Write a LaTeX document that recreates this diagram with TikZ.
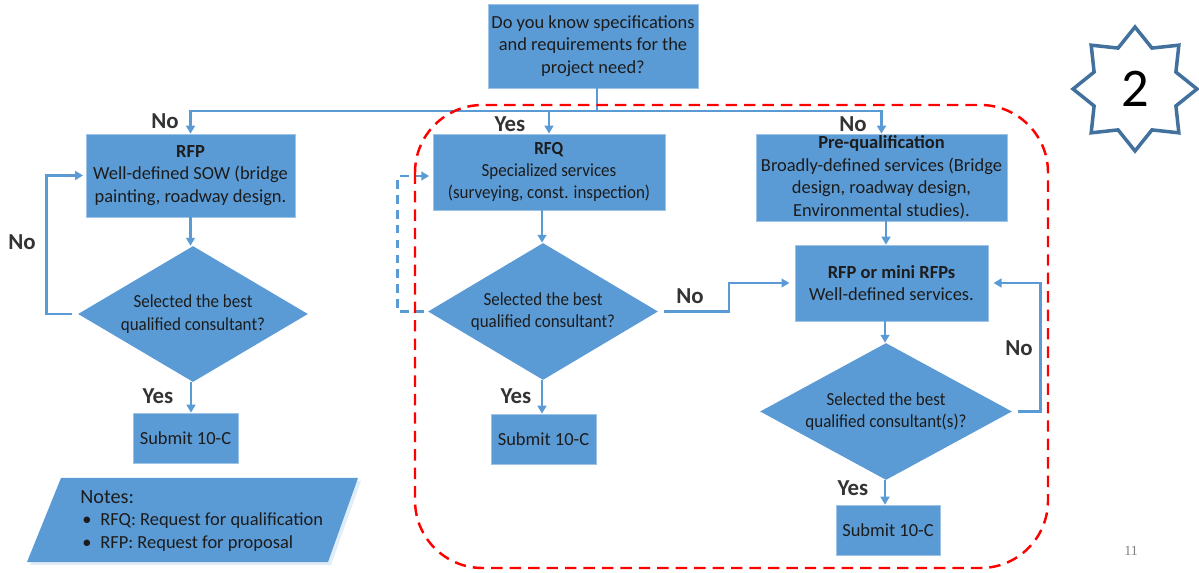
\documentclass[tikz,border=0pt]{standalone}
\usepackage{fontspec}
\setmainfont{Carlito}
\newfontfamily\narrowfont{Carlito}[FakeStretch=0.92]
\newfontfamily\pagefont{Liberation Serif}
\usepackage{xcolor}
\usepackage{tikz}
\usetikzlibrary{arrows.meta,shapes.geometric}
\definecolor{boxblue}{HTML}{5B9BD5}
\definecolor{starblue}{HTML}{41719C}
\definecolor{inktext}{HTML}{1C1C1C}

\begin{document}
\begin{tikzpicture}[x=0.02cm,y=-0.02cm]
    \tikzstyle{box_style} = [rectangle,fill=boxblue,draw=boxblue!60!white,line width=0.4pt,text=inktext,align=center,inner sep=0pt,font=\fontsize{10.5}{12.8}\selectfont]
    \tikzstyle{choice_style} = [diamond,fill=boxblue,inner sep=0pt]
    \tikzstyle{choice_text} = [text=inktext,align=center,inner sep=0pt,font=\narrowfont\fontsize{10.5}{12.8}\selectfont]
    \tikzstyle{edge_style} = [draw=boxblue,line width=1.5pt,-{Triangle[length=4.5pt,width=5pt]}]
    \tikzstyle{label_style} = [text=inktext!90!white,inner sep=0pt,font=\fontsize{13}{13}\selectfont\bfseries]
    \tikzstyle{region_style} = [draw=red,line width=1.4pt,dash pattern=on 6.5pt off 4pt,rounded corners=1.35cm]
    \useasboundingbox (0,0) rectangle (1199,573);
        % boxes
        \node[box_style,minimum width=4.2cm,minimum height=1.68cm] (top) at (593,46) {Do you know specifications\\and requirements for the\\project need?};
        \node[box_style,minimum width=4.18cm,minimum height=1.66cm] (rfp) at (190.5,175.5) {\textbf{RFP}\\Well-defined SOW (bridge\\painting, roadway design.};
        \node[box_style,minimum width=4.64cm,minimum height=1.52cm,font=\narrowfont\fontsize{10.5}{12.6}\selectfont] (rfq) at (549,172) {\textbf{RFQ}\\Specialized services\\(surveying, const. inspection)};
        \node[box_style,minimum width=5.02cm,minimum height=1.74cm] (preq) at (881.5,177.5) {\textbf{Pre-qualification}\\Broadly-defined services (Bridge\\design, roadway design,\\Environmental studies).};
        \node[box_style,minimum width=3.86cm,minimum height=1.52cm] (mini) at (891.5,283) {\textbf{RFP or mini RFPs}\\Well-defined services.};
        % decisions
        \node[choice_style,minimum width=4.6cm,minimum height=2.72cm,label={[choice_text]center:Selected the best\\qualified consultant?}] (d1) at (193,314) {};
        \node[choice_style,minimum width=4.6cm,minimum height=2.74cm,label={[choice_text]center:Selected the best\\qualified consultant?}] (d2) at (543,311.5) {};
        \node[choice_style,minimum width=5.04cm,minimum height=2.74cm,label={[choice_text]center:Selected the best\\qualified consultant(s)?}] (d3) at (886,411.5) {};
        % submit
        \node[box_style,minimum width=2.1cm,minimum height=1cm] (sub1) at (185.5,438) {Submit 10-C};
        \node[box_style,minimum width=2.1cm,minimum height=1cm] (sub2) at (543.5,439) {Submit 10-C};
        \node[box_style,minimum width=2.08cm,minimum height=1cm] (sub3) at (888,530) {Submit 10-C};
        % split under the question
        \coordinate (split) at (597,111);
        \draw[edge_style,-] (top.south -| split) -- (split);
        \draw[edge_style] (split) -| (rfp.north);
        \draw[edge_style] (split) -| (rfq.north);
        \draw[edge_style] (split) -| (preq.north);
        \node[label_style] (no1) at (165,121) {No};
        \node[label_style] (yes1) at (510,124) {Yes};
        \node[label_style] (no2) at (853,124) {No};
        % left column
        \draw[edge_style] (rfp.south) -- (rfp.south |- d1.north);
        \draw[edge_style,shorten <=3pt,shorten >=1.5pt] (d1.west) -- ++(-31,0) |- (rfp.west);
        \node[label_style] (no3) at (22,242) {No};
        \draw[edge_style] (d1.south -| 191,0) -- (191,0 |- sub1.north);
        \node[label_style] (yes2) at (158,396) {Yes};
        % middle column
        \draw[edge_style] (rfq.south -| 542,0) -- (542,0 |- d2.north);
        \draw[edge_style,dash pattern=on 5pt off 3.5pt,shorten <=2pt,shorten >=2pt] (d2.west) -- ++(-30,0) |- (rfq.west |- 0,176);
        \draw[edge_style] (d2.south -| 542,0) -- (542,0 |- sub2.north);
        \node[label_style] (yes3) at (516,396) {Yes};
        \draw[edge_style,shorten <=3pt,shorten >=3pt] (d2.east) -- (729,0 |- d2.east) |- (mini.west);
        \node[label_style] (no4) at (690,296) {No};
        % right column
        \draw[edge_style] (preq.south -| 886,0) -- (886,0 |- mini.north);
        \draw[edge_style] (mini.south -| 885,0) -- (885,0 |- d3.north);
        \draw[edge_style,shorten <=3pt,shorten >=3pt] (d3.east) -- ++(28,0) |- (mini.east);
        \node[label_style] (no5) at (1019,348) {No};
        \draw[edge_style] (d3.south -| 885,0) -- (885,0 |- sub3.north);
        \node[label_style] (yes4) at (853,488) {Yes};
        % notes
        \fill[boxblue!18] (64,481) -- (361,481) -- (331,565) -- (30,565) -- cycle;
        \fill[boxblue] (61,478) -- (358,478) -- (328,562) -- (27,562) -- cycle;
        \node[anchor=west,text=inktext,inner sep=0pt,font=\fontsize{11.5}{12}\selectfont] (notes) at (80,497) {Notes:};
        \node[anchor=west,text=inktext,inner sep=0pt,font=\fontsize{10.5}{12}\selectfont] (note1) at (82,521) {\textbullet\hspace{5pt}RFQ: Request for qualification};
        \node[anchor=west,text=inktext,inner sep=0pt,font=\fontsize{10.5}{12}\selectfont] (note2) at (82,544) {\textbullet\hspace{5pt}RFP: Request for proposal};
        % badge
        \node[star,star points=8,star point ratio=1.4,draw=starblue,line width=2pt,fill=white,minimum size=2.48cm,inner sep=0pt,font=\fontsize{31}{31}\selectfont] (badge) at (1135,89) {2};
        \node[text=gray,font=\pagefont\fontsize{8}{8}\selectfont] (page) at (1131,551) {11};
        % highlighted region
        \draw[region_style] (415,105) rectangle (1048,568);
\end{tikzpicture}
\end{document}
